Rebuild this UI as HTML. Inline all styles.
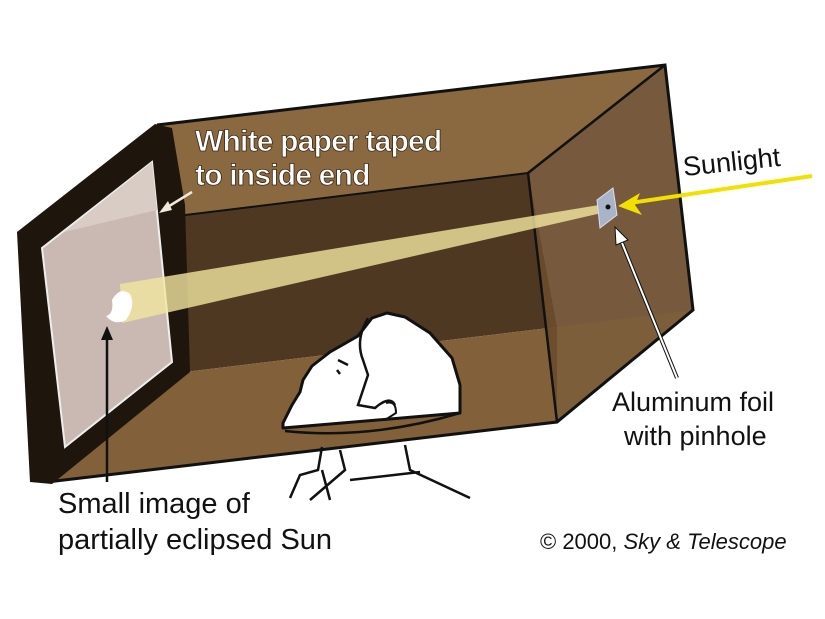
<!DOCTYPE html>
<html><head><meta charset="utf-8"><style>
body{margin:0;background:#fff;}
svg{display:block;}
text{font-family:"Liberation Sans",sans-serif;}
</style></head><body>
<svg width="825" height="619" viewBox="0 0 825 619">
<rect width="825" height="619" fill="#fff"/>
<polygon points="63,230 528,173 557,327 185,372" fill="#4e3822"/>
<polygon points="185,372 557,327 557,422 47,482" fill="#82603a"/>
<polygon points="157,125 665,65 528,173 63,230" fill="#8a6840"/>
<polygon points="528,173 665,65 693,310 557,422" fill="#6b4c2d" fill-opacity="0.92"/>
<polygon points="557,327 693,310 557,422" fill="#82603a" opacity="0.6"/>
<polyline points="157,125 665,65 693,310 557,422 47,482" fill="none" stroke="#111" stroke-width="3"/>
<line x1="528" y1="173" x2="665" y2="65" stroke="#111" stroke-width="2.5"/>
<line x1="528" y1="173" x2="557" y2="422" stroke="#111" stroke-width="2.5"/>
<line x1="63" y1="230" x2="528" y2="173" stroke="#111" stroke-width="2"/>
<polygon points="17,232 155,124 172,128 185,205 190,372 52,484 30,482" fill="#1e150d"/>
<polygon points="42,248 152,162 172,362 65,447" fill="#c9b9b2" stroke="#eee" stroke-width="2"/>
<polygon points="64,232 152,162 157,210" fill="#d8ccc4"/>
<polygon points="120,284 605,204 606,212 122,323" fill="#f3e6a0" opacity="0.8"/>
<path d="M112,300 q8,-14 18,-6 q6,12 -4,26 q-12,6 -20,-4 q8,-2 6,-16z" fill="#fff"/>
<polygon points="597,200 613,188 617,215 600,228" fill="#aab4c8" stroke="#dde" stroke-width="1"/>
<circle cx="608" cy="207" r="2.5" fill="#111"/>
<line x1="812" y1="176" x2="630" y2="203" stroke="#f2e000" stroke-width="4"/>
<polygon points="618,206 640,193 635,205 642,215" fill="#f2e000"/>
<line x1="677" y1="378" x2="620" y2="238" stroke="#111" stroke-width="4"/>
<line x1="677" y1="378" x2="620" y2="238" stroke="#fff" stroke-width="2"/>
<polygon points="615,227 628,240 616,245" fill="#fff" stroke="#111" stroke-width="1"/>
<line x1="192" y1="192" x2="166" y2="208" stroke="#f2e8d8" stroke-width="2.5"/>
<polygon points="159,213 168,201 172,210" fill="#f2e8d8"/>
<line x1="107" y1="482" x2="107" y2="335" stroke="#111" stroke-width="2.5"/>
<polygon points="107,326 101,340 113,340" fill="#111"/>
<path d="M283,423 L292,405 L300,392 L303,380 L312,366 L330,352 L358,336 L372,318 L387,313 L405,317 L430,333 L452,358 L460,385 L460,413 Q380,420 283,428 Z" fill="#fff" stroke="#111" stroke-width="3" stroke-linejoin="round"/>
<path d="M285,431 Q370,440 460,413" fill="none" stroke="#111" stroke-width="2.5"/>
<path d="M368,318 Q355,340 363,360 L368,375 L358,405 L375,408 Q390,395 395,405" fill="none" stroke="#111" stroke-width="2.5"/>
<path d="M338,360 L348,365 M337,370 l3,4" stroke="#111" stroke-width="2.5" fill="none"/>
<path d="M386,403 Q396,400 396,413 L385,420" fill="none" stroke="#111" stroke-width="2"/>
<path d="M322,447 L318,470 L300,475 L290,498 M322,470 L330,500 M340,450 L345,470 L310,500 M405,445 L410,470 L470,498 M350,480 L420,472" fill="none" stroke="#111" stroke-width="2.5"/>
<g font-weight="bold" font-size="30" fill="#fff" stroke="#3a2a18" stroke-width="0.8" letter-spacing="-0.8">
<text x="195" y="151">White paper taped</text>
<text x="195" y="185">to inside end</text>
</g>
<text x="684" y="176" font-size="27" fill="#111" transform="rotate(-6 684 176)">Sunlight</text>
<text x="612" y="411" font-size="27" fill="#111">Aluminum foil</text>
<text x="624" y="445" font-size="27" fill="#111">with pinhole</text>
<text x="58" y="513" font-size="29" fill="#111">Small image of</text>
<text x="58" y="549" font-size="29" fill="#111">partially eclipsed Sun</text>
<text x="540" y="549" font-size="22" fill="#111">© 2000, <tspan font-style="italic">Sky &amp; Telescope</tspan></text>
</svg>
</body></html>
